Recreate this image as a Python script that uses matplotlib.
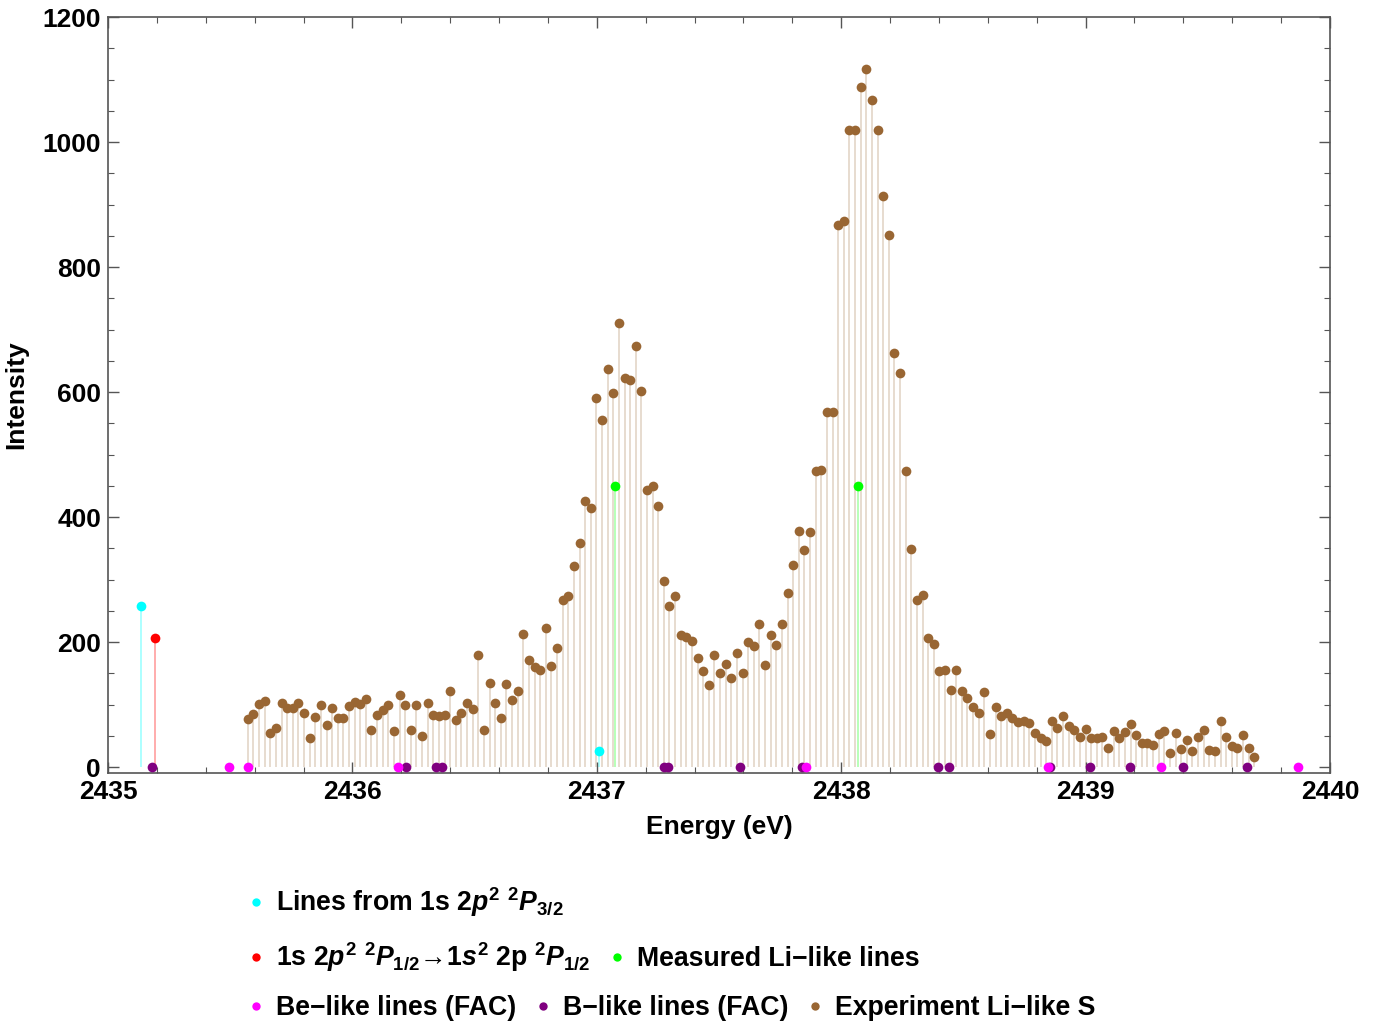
import numpy as np
import matplotlib
matplotlib.use('Agg')
import matplotlib.pyplot as plt
from matplotlib.lines import Line2D
from matplotlib.ticker import MultipleLocator

plt.rcParams['font.family'] = ['Liberation Sans', 'DejaVu Sans']
plt.rcParams['font.weight'] = 'bold'
plt.rcParams['axes.labelweight'] = 'bold'
plt.rcParams['mathtext.fontset'] = 'custom'
plt.rcParams['mathtext.rm'] = 'Liberation Sans:bold'
plt.rcParams['mathtext.it'] = 'Liberation Sans:bold:italic'
plt.rcParams['mathtext.bf'] = 'Liberation Sans:bold'
plt.rcParams['mathtext.default'] = 'rm'

# experiment, Li-like S (evenly sampled spectrum)
exp_start, exp_stop = 2435.572, 2439.690
exp_int = [77, 85, 101, 105, 55, 63, 102, 94, 95, 102, 86, 47, 80, 99, 67, 94, 79, 79,
           97, 104, 101, 109, 60, 84, 91, 100, 58, 116, 99, 59, 99, 50, 102, 83, 82, 84,
           122, 75, 87, 102, 93, 180,
           59, 134, 103, 79, 133, 108, 121, 213, 172, 160, 156, 222, 161, 190, 268, 274,
           322, 359, 426, 415, 591, 555, 637, 599, 710, 623, 619, 674, 601, 443, 449, 418, 297,
           257, 273, 211, 208, 201, 174, 154, 132, 179, 151, 165, 143, 182, 150, 200, 193,
           229, 163, 212, 196, 229, 279, 324,
           378, 348, 376, 474, 476, 568, 568,
           868, 873, 1020, 1019, 1088, 1117, 1067, 1019, 914, 852,
           663, 630, 474, 349, 268, 276,
           207, 197, 153, 156, 124, 156, 121, 111, 96, 87, 120, 53, 96, 82, 87, 78, 72, 73,
           70, 55, 46, 42, 74, 62, 82, 66, 59, 48, 61, 47, 47,
           48, 31, 58, 47, 56, 69, 52, 38, 39, 35, 53, 58, 22, 55, 29, 44, 26, 48, 59, 27,
           26, 74, 48, 33, 31, 51, 31, 16]
exp_E = np.linspace(exp_start, exp_stop, len(exp_int))

# lines from 1s 2p2 2P3/2
p32_E = [2435.135, 2437.008]
p32_I = [258, 26]
# 1s 2p2 2P1/2 -> 1s2 2p 2P1/2
p12_E = [2435.192]
p12_I = [206]
# measured Li-like lines
meas_E = [2437.076, 2438.067]
meas_I = [450, 450]
# Be-like and B-like lines (FAC), shown at zero
be_E = [2435.496, 2435.572, 2436.185, 2437.857, 2438.845, 2439.31, 2439.87]
b_E = [2435.179, 2436.218, 2436.343, 2436.368, 2437.275, 2437.293, 2437.585, 2437.838,
       2438.395, 2438.441, 2438.855, 2439.02, 2439.18, 2439.40, 2439.66]

c_cyan = '#00FFFF'
c_red = '#FF0000'
c_green = '#00FF00'
c_mag = '#FF00FF'
c_pur = '#800080'
c_brown = '#996633'

fig = plt.figure(figsize=(13.75, 10.23), dpi=100)
ax = fig.add_axes([108 / 1375, 1 - 773 / 1023, 1222 / 1375, 756 / 1023])

# stems
ax.vlines(exp_E, 0, exp_int, colors=c_brown, alpha=0.25, lw=1.3, zorder=1)
ax.vlines(p32_E, 0, p32_I, colors=c_cyan, alpha=0.35, lw=1.3, zorder=1)
ax.vlines(p12_E, 0, p12_I, colors=c_red, alpha=0.35, lw=1.3, zorder=1)
ax.vlines(meas_E, 0, meas_I, colors=c_green, alpha=0.3, lw=1.3, zorder=1)

ms = 7
ax.plot(exp_E, exp_int, 'o', color=c_brown, ms=ms, mew=0, zorder=3)
ax.plot(p32_E, p32_I, 'o', color=c_cyan, ms=ms, mew=0, zorder=4)
ax.plot(p12_E, p12_I, 'o', color=c_red, ms=ms, mew=0, zorder=4)
ax.plot(meas_E, meas_I, 'o', color=c_green, ms=ms, mew=0, zorder=4)
ax.plot(b_E, np.zeros(len(b_E)), 'o', color=c_pur, ms=ms, mew=0, zorder=4)
ax.plot(be_E, np.zeros(len(be_E)), 'o', color=c_mag, ms=ms, mew=0, zorder=5)

ax.set_xlim(2435, 2440)
ax.set_ylim(-9.5, 1200)
ax.xaxis.set_major_locator(MultipleLocator(1))
ax.xaxis.set_minor_locator(MultipleLocator(0.2))
ax.yaxis.set_major_locator(MultipleLocator(200))
ax.yaxis.set_minor_locator(MultipleLocator(50))
ax.ticklabel_format(useOffset=False)
ax.tick_params(which='both', direction='in', top=True, right=True, color='#555555',
               labelsize=19, pad=5)
ax.tick_params(which='major', length=8, width=1)
ax.tick_params(which='minor', length=4.5, width=0.8)
for s in ax.spines.values():
    s.set_color('#555555')
    s.set_linewidth(1.2)
ax.set_xlabel('Energy (eV)', fontsize=19, labelpad=8)
ax.set_ylabel('Intensity', fontsize=19, labelpad=10)

# legend rows
def dot(c):
    return Line2D([], [], ls='', marker='o', ms=6, mew=0, color=c)

leg_kw = dict(frameon=False, fontsize=19.2, loc='center left', handlelength=0.6,
              handletextpad=0.45, borderpad=0, borderaxespad=0, columnspacing=0.7)
fig.legend([dot(c_cyan)],
           [r'Lines from 1s 2$\mathit{p}^{2}$ $^{2}\mathit{P}_{3/2}$'],
           bbox_to_anchor=(248 / 1375, 1 - 902 / 1023), **leg_kw)
fig.legend([dot(c_red), dot(c_green)],
           [r'1s 2$\mathit{p}^{2}$ $^{2}\mathit{P}_{1/2}$→1$\mathit{s}^{2}$ 2p $^{2}\mathit{P}_{1/2}$',
            'Measured Li\u2212like lines'],
           ncol=2, bbox_to_anchor=(248 / 1375, 1 - 957 / 1023), **leg_kw)
fig.legend([dot(c_mag), dot(c_pur), dot(c_brown)],
           ['Be\u2212like lines (FAC)', 'B\u2212like lines (FAC)', 'Experiment Li\u2212like S'],
           ncol=3, bbox_to_anchor=(248 / 1375, 1 - 1008 / 1023), **leg_kw)

fig.savefig('out.png', dpi=100)
